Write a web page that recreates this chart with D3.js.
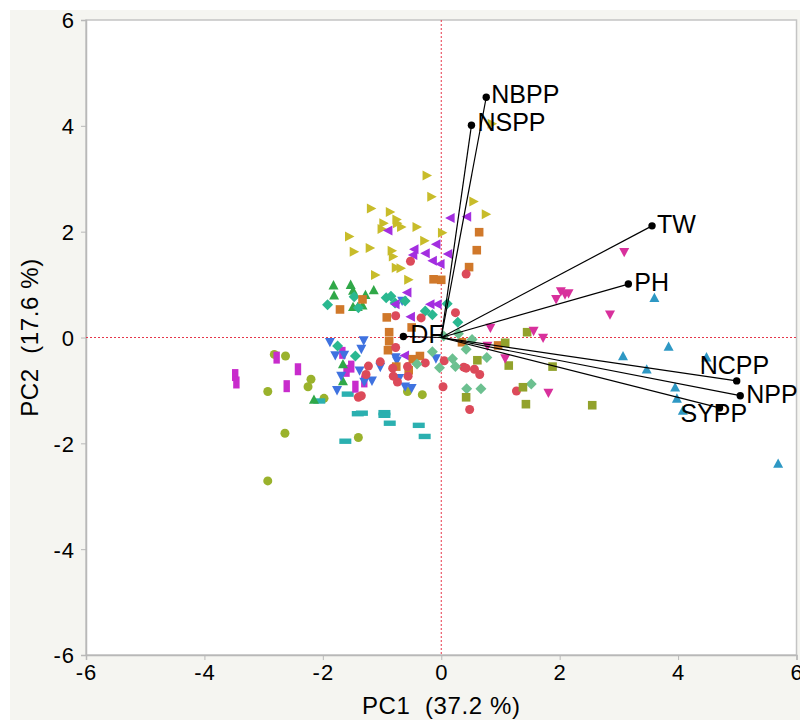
<!DOCTYPE html>
<html>
<head>
<meta charset="utf-8">
<script src="https://cdn.jsdelivr.net/npm/d3@7"></script>
<style>
  html, body { margin: 0; padding: 0; background: #fff; }
  svg { display: block; font-family: Arial, "Liberation Sans", sans-serif; }
</style>
</head>
<body>
<div id="chart"></div>
<script>
// Axis ticks
const xTicks = [-6, -4, -2, 0, 2, 4, 6];
const yTicks = [-6, -4, -2, 0, 2, 4, 6];

// Scores per group, [PC1, PC2]
const yellowPts = [
  [-0.24, 3.06], [-0.16, 2.66], [0.55, 2.57], [0.76, 2.33], [-1.18, 2.44], [-0.86, 2.37],
  [-0.97, 2.16], [-0.75, 2.23], [-0.74, 2.16], [-0.67, 2.09], [-1.00, 2.05], [-0.41, 2.09],
  [0.02, 1.98], [-1.55, 1.91], [-1.47, 1.62], [-1.20, 1.69], [-0.83, 1.64], [-0.81, 1.53],
  [-0.76, 1.32], [-0.68, 1.31], [-0.28, 1.83], [-1.11, 1.18], [-0.55, 1.09], [0.86, 4.04]
];
const purplePts = [
  [0.15, 2.26], [0.43, 2.28], [-0.90, 2.02], [-0.46, 1.67], [-0.48, 1.56], [-0.27, 1.59],
  [-0.09, 1.76], [0.11, 1.58], [-0.15, 1.45], [-0.02, 1.39], [-0.58, 0.85], [-0.19, 0.63],
  [-0.07, 0.63], [-0.52, 0.39], [-0.78, 0.63], [-0.62, -0.34]
];
const orangePts = [
  [0.64, 1.99], [0.60, 1.65], [0.47, 1.33], [-0.13, 1.10], [0.00, 1.09], [-1.33, 0.72],
  [-1.71, 0.53], [-0.92, 0.38], [-0.50, 0.19], [-0.88, 0.10], [-0.88, -0.07], [-0.90, -0.24],
  [-0.36, -0.35], [-0.48, -0.41], [-0.76, -0.55], [-0.55, -0.62], [0.35, -0.09], [0.96, -0.15]
];
const redPts = [
  [-0.52, 1.44], [0.42, 1.20], [-0.77, 0.41], [-0.34, 0.37], [0.24, 0.47], [-0.77, -0.19],
  [-1.03, -0.46], [-1.23, -0.54], [-1.27, -0.70], [-0.82, -0.58], [-0.57, -0.55], [-0.56, -0.73],
  [-0.81, -0.73], [-0.74, -0.84], [-0.27, -0.48], [0.05, -0.44], [0.38, -0.56], [0.42, -0.58],
  [0.56, -0.60], [0.65, -0.70], [0.03, -0.93], [-1.40, -1.13], [-1.35, -1.10], [0.48, -1.36],
  [1.27, -1.01]
];
const greenPts = [
  [-1.82, 0.99], [-1.53, 1.00], [-1.81, 0.80], [-1.49, 0.89], [-1.28, 0.81], [-1.14, 0.90],
  [-1.49, 0.58], [-1.41, 0.58], [-1.33, 0.61], [-1.66, -0.50], [-1.66, -0.82], [-2.15, -1.17]
];
const tealPts = [
  [-1.92, 0.62], [-1.47, 0.77], [-0.93, 0.75], [-0.85, 0.78], [-0.78, 0.65], [-0.61, 0.69],
  [-1.40, 0.56], [0.10, 0.64], [-0.27, 0.50], [-0.15, 0.43], [0.28, 0.29], [-1.75, -0.16],
  [-1.45, -0.35]
];
const bluePts = [
  [-1.88, -0.09], [-1.31, -0.06], [-1.35, -0.22], [-1.79, -0.34], [-1.64, -0.33], [-0.66, 0.69],
  [-0.77, -0.38], [-0.75, -0.44], [-1.03, -0.56], [-1.38, -0.63], [-1.30, -0.84], [-1.17, -0.82],
  [-1.69, -0.73], [-1.76, -1.00], [-0.71, -0.77], [-0.61, -0.93], [-0.50, -0.96], [-0.09, -0.40]
];
const magentaPts = [
  [-1.67, -0.29], [-2.78, -0.38], [-2.42, -0.60], [-3.48, -0.71], [-3.46, -0.85], [-2.61, -0.92],
  [-1.60, -0.63], [-1.52, -0.55], [-1.45, -0.93], [-1.30, -0.83]
];
const oliveCirclePts = [
  [-2.82, -0.32], [-2.63, -0.35], [-2.20, -0.79], [-2.25, -0.93], [-2.93, -1.02], [-1.98, -1.15],
  [-2.64, -1.81], [-1.40, -1.89], [-2.93, -2.71], [-0.57, -1.02], [-0.32, -1.08]
];
const cyanPts = [
  [-2.06, -1.20], [-1.58, -1.07], [-1.41, -1.44], [-1.34, -1.43], [-0.96, -1.42], [-0.96, -1.47],
  [-0.87, -1.62], [-0.38, -1.66], [-0.28, -1.87], [-1.62, -1.96]
];
const lightGreenPts = [
  [0.04, 0.03], [0.29, 0.07], [0.52, -0.04], [0.42, -0.22], [-0.15, -0.27], [0.19, -0.40],
  [-0.03, -0.57], [0.24, -0.55], [0.77, -0.38], [-0.41, -0.50], [0.43, -0.97], [0.67, -0.97],
  [1.52, -0.88]
];
const oliveSquarePts = [
  [1.45, 0.10], [1.08, -0.10], [0.61, -0.43], [1.14, -0.53], [1.88, -0.55], [0.42, -1.13],
  [1.38, -0.94], [1.43, -1.26], [2.55, -1.28]
];
const pinkPts = [
  [3.09, 1.61], [1.94, 0.72], [2.02, 0.87], [2.09, 0.81], [2.15, 0.83], [2.85, 0.43],
  [0.83, 0.18], [1.56, 0.12], [1.72, -0.01], [0.78, -0.16], [1.08, -0.40], [1.81, -1.05]
];
const steelPts = [
  [3.60, 0.75], [3.84, -0.17], [3.07, -0.35], [4.48, -0.37], [3.47, -0.60], [3.95, -0.94],
  [3.98, -1.15], [4.08, -1.38], [5.69, -2.38]
];

// Loadings (biplot rays)
const loadingNames = ['NBPP', 'NSPP', 'TW', 'PH', 'NCPP', 'NPP', 'SYPP', 'DF'];
const loadingPC1 = [0.76, 0.51, 3.56, 3.16, 4.99, 5.05, 4.70, -0.64];
const loadingPC2 = [4.54, 4.01, 2.11, 1.01, -0.82, -1.10, -1.33, 0.02];

// Marker shapes (custom d3 symbol types, sizes in px)
const shapes = {
    triRight: { draw(c) { c.moveTo(5, 0); c.lineTo(-4.5, -5); c.lineTo(-4.5, 5); c.closePath(); } },
    triLeft: { draw(c) { c.moveTo(-5, 0); c.lineTo(4.5, -5); c.lineTo(4.5, 5); c.closePath(); } },
    triUp: { draw(c) { c.moveTo(0, -5); c.lineTo(5, 4.3); c.lineTo(-5, 4.3); c.closePath(); } },
    triDown: { draw(c) { c.moveTo(0, 5); c.lineTo(5, -4.3); c.lineTo(-5, -4.3); c.closePath(); } },
    circle: { draw(c) { c.moveTo(4.5, 0); c.arc(0, 0, 4.5, 0, 2 * Math.PI); } },
    square: { draw(c) { c.rect(-4.3, -4.3, 8.6, 8.6); } },
    diamond: { draw(c) { c.moveTo(0, -5.5); c.lineTo(5.5, 0); c.lineTo(0, 5.5); c.lineTo(-5.5, 0); c.closePath(); } },
    vbar: { draw(c) { c.rect(-3.2, -6, 6.4, 12); } },
    hbar: { draw(c) { c.rect(-6, -2.7, 12, 5.4); } }
};

const groups = [
    { pts: oliveCirclePts, colour: '#9ab22c', shape: 'circle' },
    { pts: cyanPts, colour: '#2bb0b0', shape: 'hbar' },
    { pts: magentaPts, colour: '#c82ccc', shape: 'vbar' },
    { pts: greenPts, colour: '#30a848', shape: 'triUp' },
    { pts: bluePts, colour: '#3f72e0', shape: 'triDown' },
    { pts: tealPts, colour: '#2ab890', shape: 'diamond' },
    { pts: yellowPts, colour: '#c8bc2a', shape: 'triRight' },
    { pts: purplePts, colour: '#a32ee0', shape: 'triLeft' },
    { pts: orangePts, colour: '#d0782a', shape: 'square' },
    { pts: redPts, colour: '#dc4a5a', shape: 'circle' },
    { pts: lightGreenPts, colour: '#6cc090', shape: 'diamond' },
    { pts: oliveSquarePts, colour: '#92a22c', shape: 'square' },
    { pts: pinkPts, colour: '#d8309c', shape: 'triDown' },
    { pts: steelPts, colour: '#2e98c4', shape: 'triUp' }
];

// label offsets from the ray tip [dx, dy(baseline)]
const labelOffset = {
    NBPP: [5, 6], NSPP: [6, 6], TW: [5, 7], PH: [6, 7],
    NCPP: [-37, -7], NPP: [6, 7], SYPP: [-39, 14], DF: [7, 7]
};

const width = 800, height = 720;
const svg = d3.select('#chart').append('svg')
    .attr('width', width)
    .attr('height', height);

// Outer grey panel
svg.append('rect')
    .attr('x', 10).attr('y', 10)
    .attr('width', width - 10).attr('height', height - 10)
    .attr('fill', '#f5f5f1');

const x = d3.scaleLinear().domain([-6, 6]).range([86, 796.5]);
const y = d3.scaleLinear().domain([-6, 6]).range([655, 20]);

// Plot area
svg.append('rect')
    .attr('x', x(-6)).attr('y', y(6))
    .attr('width', x(6) - x(-6)).attr('height', y(-6) - y(6))
    .attr('fill', '#fff')
    .attr('stroke', '#c4c4c4')
    .attr('stroke-width', 1.5);

// Axes
const xAxis = svg.append('g')
    .attr('transform', `translate(0,${y(-6)})`)
    .call(d3.axisBottom(x).tickValues(xTicks).tickSize(5).tickPadding(4).tickFormat(d3.format('d')));
const yAxis = svg.append('g')
    .attr('transform', `translate(${x(-6)},0)`)
    .call(d3.axisLeft(y).tickValues(yTicks).tickSize(5).tickPadding(6).tickFormat(d3.format('d')));

[xAxis, yAxis].forEach(a => {
    a.select('.domain').attr('stroke', '#b8b8b8').attr('stroke-width', 1.5);
    a.selectAll('.tick line').attr('stroke', '#b8b8b8');
    a.selectAll('.tick text')
        .attr('fill', '#000')
        .style('font-size', '22px')
        .style('font-family', 'Arial, "Liberation Sans", sans-serif')
        .style('letter-spacing', '1px')
        .text(d => d < 0 ? '-' + Math.abs(d) : d);
});
yAxis.selectAll('.tick text').attr('dy', '0.36em');
xAxis.selectAll('.tick text').attr('dy', '0.74em');

// Axis titles
svg.append('text')
    .attr('x', (x(-6) + x(6)) / 2)
    .attr('y', 714)
    .attr('text-anchor', 'middle')
    .style('font-size', '24px')
    .style('letter-spacing', '0.6px')
    .style('white-space', 'pre')
    .text('PC1  (37.2 %)');

svg.append('text')
    .attr('transform', `translate(38,${(y(-6) + y(6)) / 2}) rotate(-90)`)
    .attr('text-anchor', 'middle')
    .style('font-size', '24px')
    .style('letter-spacing', '0.6px')
    .style('white-space', 'pre')
    .text('PC2  (17.6 %)');

// Reference lines at zero
const refG = svg.append('g')
    .attr('stroke', '#e6374a')
    .attr('stroke-width', 1)
    .attr('stroke-dasharray', '2,2');
refG.append('line')
    .attr('x1', x(0)).attr('x2', x(0))
    .attr('y1', y(6)).attr('y2', y(-6));
refG.append('line')
    .attr('x1', x(-6)).attr('x2', x(6))
    .attr('y1', y(0)).attr('y2', y(0));

// Scores
const marks = svg.append('g');
groups.forEach(g => {
    const sym = d3.symbol().type(shapes[g.shape]);
    marks.append('g')
        .selectAll('path')
        .data(g.pts)
        .join('path')
        .attr('transform', d => `translate(${x(d[0])},${y(d[1])})`)
        .attr('d', sym)
        .attr('fill', g.colour);
});

// Loadings rays
const loadings = loadingNames.map((n, i) => ({ name: n, pc1: loadingPC1[i], pc2: loadingPC2[i] }));
const rays = svg.append('g');
rays.selectAll('line')
    .data(loadings)
    .join('line')
    .attr('x1', x(0)).attr('y1', y(0))
    .attr('x2', d => x(d.pc1)).attr('y2', d => y(d.pc2))
    .attr('stroke', '#000')
    .attr('stroke-width', 1.2);
rays.selectAll('circle')
    .data(loadings)
    .join('circle')
    .attr('cx', d => x(d.pc1)).attr('cy', d => y(d.pc2))
    .attr('r', 3.7)
    .attr('fill', '#000');
rays.selectAll('text')
    .data(loadings)
    .join('text')
    .attr('x', d => x(d.pc1) + labelOffset[d.name][0])
    .attr('y', d => y(d.pc2) + labelOffset[d.name][1])
    .style('font-size', '25px')
    .attr('fill', '#000')
    .text(d => d.name);
</script>
</body>
</html>
